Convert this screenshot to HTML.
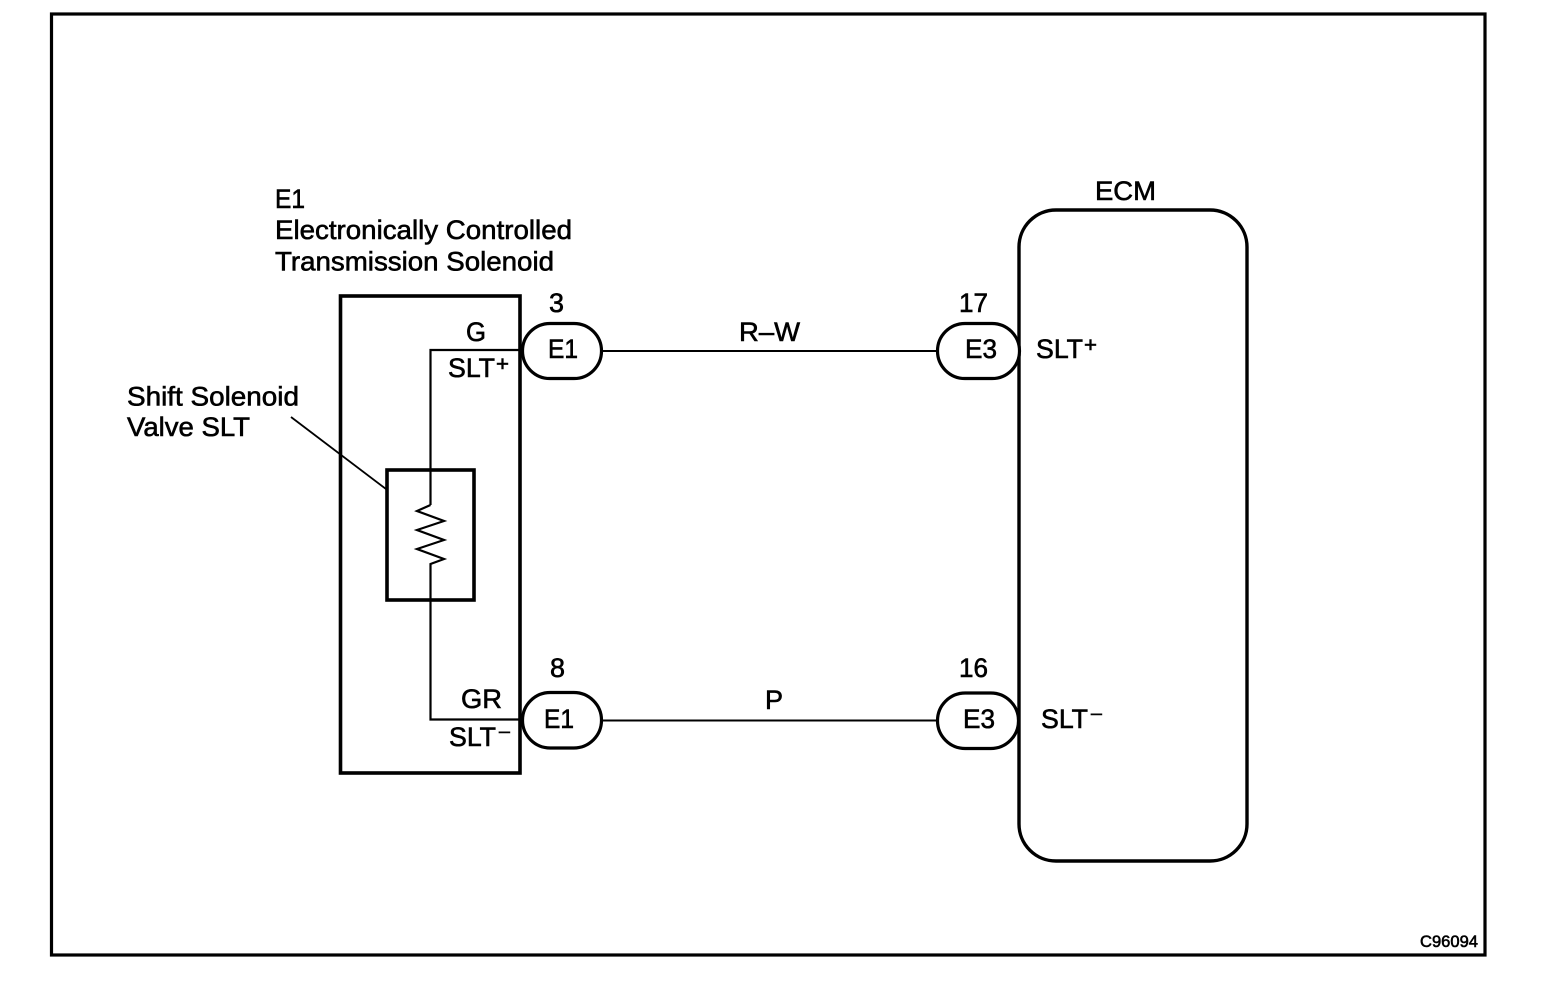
<!DOCTYPE html>
<html>
<head>
<meta charset="utf-8">
<style>
html,body{margin:0;padding:0;background:#fff;}
svg{display:block;}
text{font-family:"Liberation Sans",Arial,sans-serif;font-size:27px;fill:#000;stroke:#000;stroke-width:.6px;}
</style>
</head>
<body>
<svg width="1568" height="1004" viewBox="0 0 1568 1004" xmlns="http://www.w3.org/2000/svg">
<rect width="1568" height="1004" fill="#fff"/>
<g fill="none" stroke="#000">
  <rect x="51.5" y="14" width="1433.5" height="941" stroke-width="3.2"/>
  <rect x="340.5" y="296" width="179.5" height="477" stroke-width="3.6"/>
  <rect x="387" y="470" width="87" height="130" stroke-width="3.6"/>
  <path d="M430.5 505V350H521M430.5 505L417 511L444 521L417 530L444 540L417 549L444 559L430.5 564V719.5H521" stroke-width="2.2"/>
  <path d="M291 417L386 489" stroke-width="1.8"/>
  <path d="M602 351H936M602 720.5H936" stroke-width="2"/>
  <rect x="1019" y="210" width="228" height="651" rx="37" ry="37" stroke-width="3.4"/>
  <rect x="522.5" y="323.5" width="79" height="55" rx="27.5" ry="27.5" stroke-width="3.2" fill="#fff"/>
  <rect x="522.5" y="692.5" width="79" height="55.5" rx="27.7" ry="27.7" stroke-width="3.2" fill="#fff"/>
  <rect x="937.5" y="323.5" width="82" height="55" rx="27.5" ry="27.5" stroke-width="3.2" fill="#fff"/>
  <rect x="937.5" y="693" width="81" height="55.5" rx="27.7" ry="27.7" stroke-width="3.2" fill="#fff"/>
</g>
<text x="275" y="208" textLength="30" lengthAdjust="spacingAndGlyphs">E1</text>
<text x="275" y="239" textLength="297" lengthAdjust="spacingAndGlyphs">Electronically Controlled</text>
<text x="275" y="270.500" textLength="279" lengthAdjust="spacingAndGlyphs">Transmission Solenoid</text>
<text x="127" y="405.500" textLength="172" lengthAdjust="spacingAndGlyphs">Shift Solenoid</text>
<text x="127" y="436" textLength="123" lengthAdjust="spacingAndGlyphs">Valve SLT</text>
<text x="466" y="341" textLength="20" lengthAdjust="spacingAndGlyphs">G</text>
<text x="448" y="377" textLength="47" lengthAdjust="spacingAndGlyphs">SLT</text>
<text x="496" y="371" style="font-size:21px" textLength="13" lengthAdjust="spacingAndGlyphs">+</text>
<text x="461" y="708" textLength="41" lengthAdjust="spacingAndGlyphs">GR</text>
<text x="449" y="746" textLength="47" lengthAdjust="spacingAndGlyphs">SLT</text>
<text x="498" y="738" style="font-size:17px" textLength="13" lengthAdjust="spacingAndGlyphs">−</text>
<text x="549" y="312" textLength="15" lengthAdjust="spacingAndGlyphs">3</text>
<text x="550" y="677" textLength="15" lengthAdjust="spacingAndGlyphs">8</text>
<text x="548" y="358" textLength="30" lengthAdjust="spacingAndGlyphs">E1</text>
<text x="544" y="728" textLength="30" lengthAdjust="spacingAndGlyphs">E1</text>
<text x="739" y="341" textLength="61" lengthAdjust="spacingAndGlyphs">R–W</text>
<text x="765" y="709" textLength="18" lengthAdjust="spacingAndGlyphs">P</text>
<text x="959" y="312" textLength="29" lengthAdjust="spacingAndGlyphs">17</text>
<text x="959" y="677" textLength="29" lengthAdjust="spacingAndGlyphs">16</text>
<text x="965" y="358" textLength="32" lengthAdjust="spacingAndGlyphs">E3</text>
<text x="963" y="728" textLength="32" lengthAdjust="spacingAndGlyphs">E3</text>
<text x="1036" y="358" textLength="47" lengthAdjust="spacingAndGlyphs">SLT</text>
<text x="1084" y="352" style="font-size:21px" textLength="13" lengthAdjust="spacingAndGlyphs">+</text>
<text x="1041" y="728" textLength="47" lengthAdjust="spacingAndGlyphs">SLT</text>
<text x="1090" y="720" style="font-size:17px" textLength="13" lengthAdjust="spacingAndGlyphs">−</text>
<text x="1095" y="200" textLength="61" lengthAdjust="spacingAndGlyphs">ECM</text>
<text x="1420" y="947" style="font-size:17px" textLength="58" lengthAdjust="spacingAndGlyphs">C96094</text>
</svg>
</body>
</html>
